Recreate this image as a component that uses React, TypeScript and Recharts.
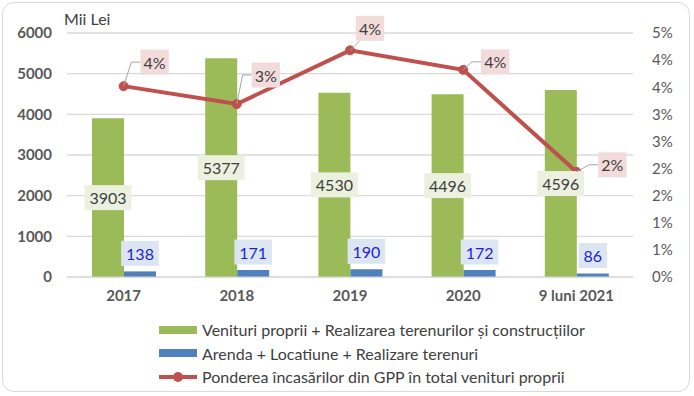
import { Bar, CartesianGrid, ComposedChart, LabelList, Legend, Line, XAxis, YAxis } from 'recharts';

const categories = ['2017', '2018', '2019', '2020', '9 luni 2021'];
const venituriProprii = [3903, 5377, 4530, 4496, 4596];
const arendaLocatiune = [138, 171, 190, 172, 86];
// percent
const pondereGpp = [3.52, 3.19, 4.18, 3.82, 1.94];

const leftTicks = [0, 1000, 2000, 3000, 4000, 5000, 6000];
const rightTicks = [0, 0.5, 1, 1.5, 2, 2.5, 3, 3.5, 4, 4.5];

const seriesNames = [
  'Venituri proprii + Realizarea terenurilor și construcțiilor',
  'Arenda + Locatiune + Realizare terenuri',
  'Ponderea încasărilor din GPP în total venituri proprii',
];

const data = categories.map((name, i) => ({
  name,
  venituri: venituriProprii[i],
  arenda: arendaLocatiune[i],
  pondere: pondereGpp[i],
}));

const FONT = 'Lato, "Noto Sans", sans-serif';
const GREEN = '#9BBB59';
const BLUE = '#4F81BD';
const RED = '#C0504D';
const TEXT = '#404040';
const AXIS_TEXT = '#595959';

// where each % label box sits relative to its point
const pctLabelShift = [
  [31, -24],
  [29, -29],
  [20, -22],
  [32, -8],
  [36, -7],
];

const boxW = (s: string) => s.length * 9.2 + 10;

function GreenLabel(props: any) {
  const { x, y, width, height, value } = props;
  const s = String(value);
  const w = boxW(s);
  const cx = x + width / 2;
  const cy = y + height / 2;
  return (
    <g>
      <rect x={cx - w / 2} y={cy - 12.5} width={w} height={25} fill="#EBF1DE" />
      <text x={cx} y={cy} textAnchor="middle" dominantBaseline="central" fontFamily={FONT} fontSize={16} fill={TEXT}>
        {s}
      </text>
    </g>
  );
}

function BlueLabel(props: any) {
  const { x, y, width, value } = props;
  const s = String(value);
  const w = boxW(s);
  const cx = x + width / 2;
  const cy = y - 18;
  return (
    <g>
      <rect x={cx - w / 2} y={cy - 12.5} width={w} height={25} fill="#DCE6F2" />
      <text x={cx} y={cy} textAnchor="middle" dominantBaseline="central" fontFamily={FONT} fontSize={16} fill="#1F1FD0">
        {s}
      </text>
    </g>
  );
}

function PctLabel(props: any) {
  const { x, y, value, index } = props;
  const s = `${Math.round(value)}%`;
  const w = boxW(s);
  const [dx, dy] = pctLabelShift[index] || [30, -20];
  const cx = x + dx;
  const cy = y + dy;
  const left = cx - w / 2;
  const leader =
    left - 9 < x + 3
      ? `M${x},${y} L${left + 4},${cy + 12.5}`
      : `M${x},${y} L${left - 9},${cy} L${left},${cy}`;
  return (
    <g>
      <path d={leader} stroke="#A6A6A6" strokeWidth={1} fill="none" />
      <rect x={left} y={cy - 12.5} width={w} height={25} fill="#F2DCDB" />
      <text x={cx} y={cy} textAnchor="middle" dominantBaseline="central" fontFamily={FONT} fontSize={16} fill={TEXT}>
        {s}
      </text>
    </g>
  );
}

function LegendContent() {
  const rows = [
    { name: seriesNames[0], color: GREEN, kind: 'bar' },
    { name: seriesNames[1], color: BLUE, kind: 'bar' },
    { name: seriesNames[2], color: RED, kind: 'line' },
  ];
  return (
    <div style={{ fontFamily: FONT, fontSize: 16, color: TEXT }}>
      {rows.map((r) => (
        <div key={r.name} style={{ display: 'flex', alignItems: 'center', height: 23.5, whiteSpace: 'nowrap' }}>
          <svg width={40} height={12} style={{ marginRight: 3 }}>
            {r.kind === 'bar' ? (
              <rect x={0} y={2} width={38} height={8} fill={r.color} />
            ) : (
              <g>
                <line x1={0} y1={6} x2={38} y2={6} stroke={r.color} strokeWidth={4} />
                <circle cx={19} cy={6} r={5} fill={r.color} />
              </g>
            )}
          </svg>
          <span>{r.name}</span>
        </div>
      ))}
    </div>
  );
}

export default function App() {
  return (
    <div style={{ position: 'fixed', left: 0, top: 0, width: 694, height: 396, background: '#fff' }}>
      <div
        style={{
          position: 'absolute',
          left: 2,
          top: 2,
          width: 686,
          height: 388,
          border: '1.5px solid #D9D9D9',
          borderRadius: 12,
        }}
      />
      <div
        style={{
          position: 'absolute',
          left: 64,
          top: 9,
          fontFamily: FONT,
          fontSize: 16,
          color: TEXT,
        }}
      >
        Mii Lei
      </div>
      <div style={{ position: 'absolute', left: 0, top: 0 }}>
        <ComposedChart
          width={694}
          height={396}
          data={data}
          margin={{ top: 33, right: 6, bottom: 89, left: 17 }}
          barGap={0}
        >
          <CartesianGrid vertical={false} stroke="#D9D9D9" strokeWidth={1.3} />
          <XAxis
            dataKey="name"
            axisLine={{ stroke: '#D9D9D9' }}
            tickLine={false}
            tickSize={0}
            tickMargin={13}
            height={30}
            interval={0}
            tick={{ fontFamily: FONT, fontSize: 15, fontWeight: 700, fill: AXIS_TEXT }}
          />
          <YAxis
            domain={[0, 6000]}
            ticks={leftTicks}
            width={50}
            axisLine={false}
            tickLine={false}
            tickSize={0}
            tickMargin={15}
            tick={{ fontFamily: FONT, fontSize: 15, fontWeight: 700, fill: AXIS_TEXT }}
          />
          <YAxis
            yAxisId="pct"
            orientation="right"
            domain={[0, 4.5]}
            ticks={rightTicks}
            width={55}
            axisLine={false}
            tickLine={false}
            tickSize={0}
            tickMargin={19}
            tickFormatter={(v: number) => `${Math.round(v)}%`}
            tick={{ fontFamily: FONT, fontSize: 15, fill: AXIS_TEXT, textAnchor: 'start' }}
          />
          <Legend
            layout="horizontal"
            verticalAlign="middle"
            align="center"
            content={<LegendContent />}
            wrapperStyle={{ top: 318, left: 159, width: 460 }}
          />
          <Bar dataKey="venituri" name={seriesNames[0]} fill={GREEN} barSize={32} isAnimationActive={false}>
            <LabelList dataKey="venituri" content={<GreenLabel />} />
          </Bar>
          <Bar dataKey="arenda" name={seriesNames[1]} fill={BLUE} barSize={32} isAnimationActive={false}>
            <LabelList dataKey="arenda" content={<BlueLabel />} />
          </Bar>
          <Line
            yAxisId="pct"
            dataKey="pondere"
            name={seriesNames[2]}
            stroke={RED}
            strokeWidth={4}
            dot={{ r: 4.5, fill: RED, stroke: RED, strokeWidth: 1 }}
            isAnimationActive={false}
          >
            <LabelList dataKey="pondere" content={<PctLabel />} />
          </Line>
        </ComposedChart>
      </div>
    </div>
  );
}
